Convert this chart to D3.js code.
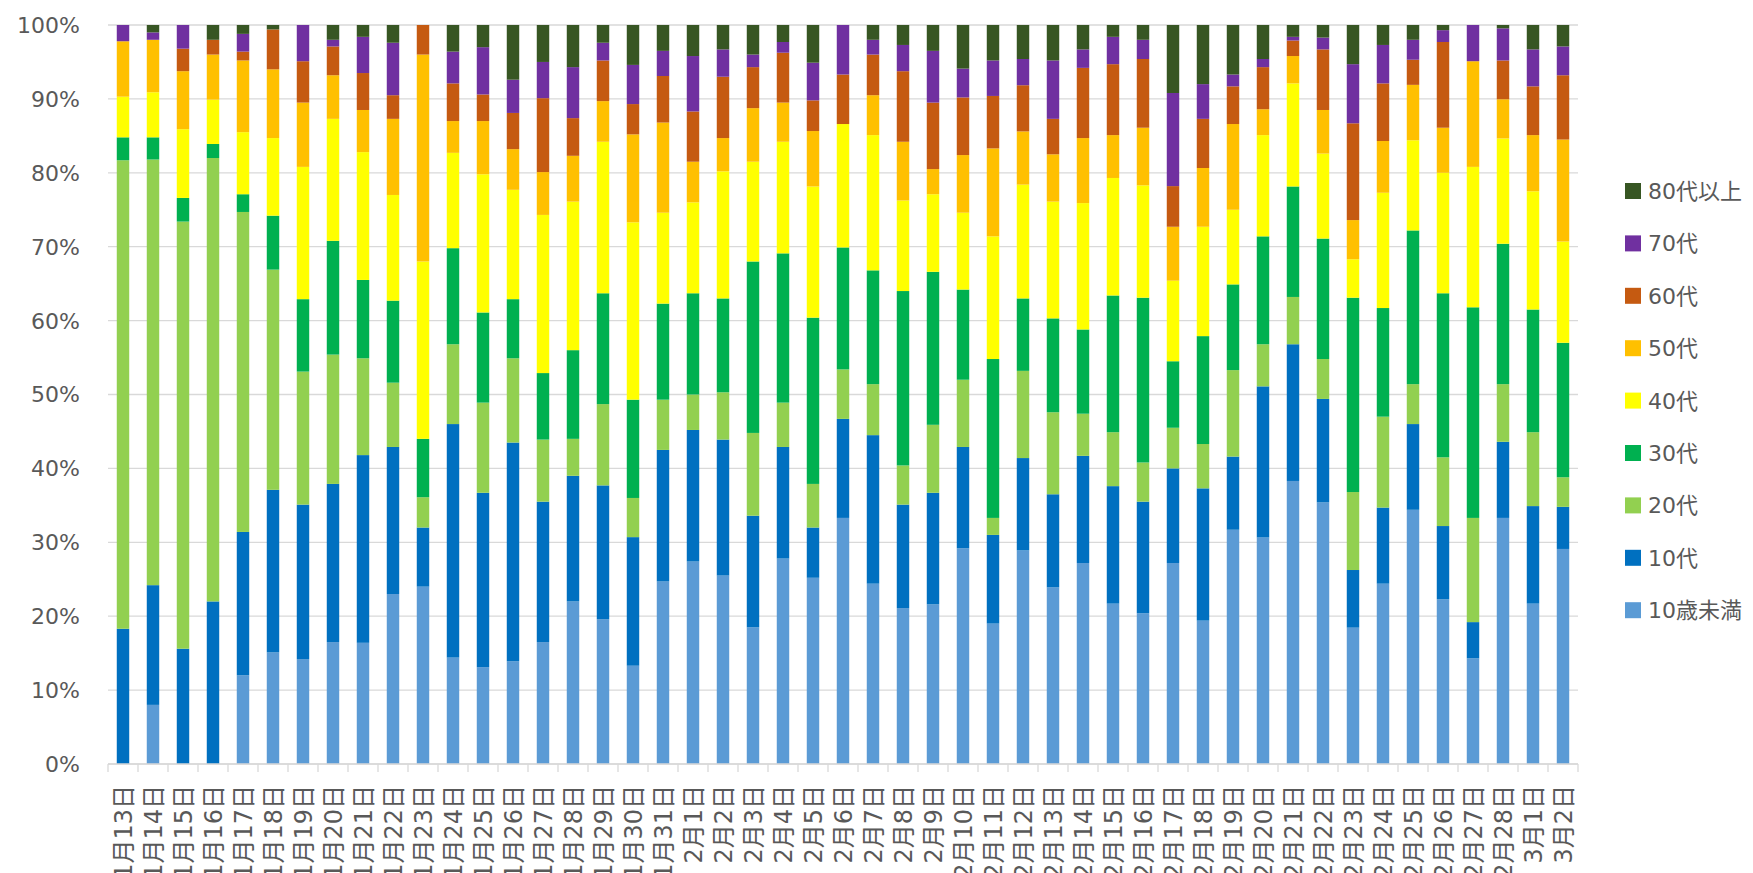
<!DOCTYPE html>
<html>
<head>
<meta charset="utf-8">
<script src="https://cdn.jsdelivr.net/npm/d3@7"></script>
<style>
  html, body { margin: 0; padding: 0; background: #fff; }
  svg { display: block; }
  text { font-family: "DejaVu Sans", "Noto Sans CJK JP", sans-serif; fill: #595959; }
</style>
</head>
<body>
<svg id="chart" width="1753" height="873"></svg>
<script>
const categories = [
  "1月13日","1月14日","1月15日","1月16日","1月17日","1月18日","1月19日","1月20日","1月21日","1月22日",
  "1月23日","1月24日","1月25日","1月26日","1月27日","1月28日","1月29日","1月30日","1月31日",
  "2月1日","2月2日","2月3日","2月4日","2月5日","2月6日","2月7日","2月8日","2月9日","2月10日",
  "2月11日","2月12日","2月13日","2月14日","2月15日","2月16日","2月17日","2月18日","2月19日","2月20日",
  "2月21日","2月22日","2月23日","2月24日","2月25日","2月26日","2月27日","2月28日","3月1日","3月2日"
];
const seriesNames = ["10歳未満","10代","20代","30代","40代","50代","60代","70代","80代以上"];
const seriesColors = ["#5B9BD5","#0070C0","#92D050","#00B050","#FFFF00","#FFC000","#C55A11","#7030A0","#375623"];

const under10 = [0,8.0,0,0,12.0,15.1,14.2,16.5,16.4,23.0,24.0,14.4,13.1,13.9,16.5,22.0,19.6,13.3,24.7,27.4,25.5,18.5,27.8,25.2,33.3,24.4,21.1,21.6,29.2,19.0,28.9,23.9,27.2,21.7,20.4,27.2,19.4,31.7,30.65,38.3,35.4,18.45,24.4,34.4,22.3,14.3,33.3,21.7,29.1];
const age10s = [18.3,16.2,15.6,22.0,19.4,22.0,20.9,21.4,25.4,19.9,8.0,31.6,23.6,29.6,19.0,17.0,18.1,17.4,17.8,17.8,18.4,15.1,15.1,6.8,13.4,20.1,14.0,15.1,13.7,12.0,12.5,12.6,14.5,15.9,15.1,12.8,17.9,9.9,20.45,18.5,14.0,7.8,10.3,11.6,9.9,4.9,10.3,13.2,5.7];
const age20s = [63.4,57.6,57.8,60.0,43.3,29.8,18.0,17.5,13.1,8.7,4.1,10.8,12.2,11.4,8.4,5.0,11.0,5.3,6.8,4.8,6.4,11.2,6.0,5.9,6.7,6.9,5.3,9.2,9.1,2.3,11.8,11.1,5.7,7.3,5.3,5.5,6.0,11.7,5.7,6.4,5.4,10.55,12.3,5.4,9.3,14.1,7.8,10.0,4.0];
const age30s = [3.1,3.0,3.2,1.9,2.4,7.3,9.8,15.4,10.6,11.1,7.9,13.0,12.2,8.0,9.0,12.0,15.0,13.3,13.0,13.7,12.7,23.2,20.2,22.5,16.5,15.4,23.6,20.7,12.2,21.5,9.8,12.7,11.4,18.5,22.3,9.0,14.6,11.6,14.6,14.95,16.3,26.3,14.7,20.8,22.2,28.5,19.0,16.6,18.2];
const age40s = [5.5,6.1,9.3,6.0,8.4,10.5,17.9,16.5,17.3,14.3,24.0,12.9,18.7,14.8,21.4,20.1,20.5,24.0,12.3,12.3,17.2,13.5,15.1,17.75,16.7,18.3,12.25,10.5,10.4,16.6,15.4,15.8,17.1,15.9,15.2,10.9,14.8,10.1,13.7,13.95,11.5,5.2,15.6,12.2,16.3,19.0,14.25,16.0,13.7];
const age50s = [7.5,7.1,7.85,6.1,9.7,9.3,8.7,5.9,5.7,10.3,28.0,4.3,7.2,5.5,5.8,6.2,5.5,11.9,12.2,5.5,4.5,7.25,5.3,7.5,0,5.4,7.95,3.4,7.8,11.9,7.2,6.4,8.8,5.8,7.8,7.3,7.95,11.6,3.5,3.7,5.9,5.3,7.0,7.5,6.1,14.3,5.3,7.6,13.8];
const age60s = [0,0,3.05,2.0,1.2,5.4,5.6,3.9,5.0,3.2,4.0,5.1,3.6,4.9,10.0,5.1,5.5,4.1,6.3,6.8,8.3,5.55,6.75,4.15,6.7,5.5,9.55,9.0,7.8,7.1,6.25,4.8,9.5,9.6,9.3,5.5,6.65,5.1,5.7,2.1,8.2,13.1,7.8,3.4,11.6,0,5.25,6.6,8.7];
const age70s = [2.2,1.0,3.2,0,2.4,0,4.9,0.9,4.9,7.1,0,4.3,6.4,4.5,4.9,6.9,2.4,5.3,3.4,7.5,3.7,1.7,1.45,5.1,6.7,2.0,3.55,7.0,3.9,4.8,3.55,7.9,2.5,3.7,2.6,12.6,4.7,1.6,1.1,0.5,1.6,8.0,5.2,2.7,1.6,4.9,4.35,5.0,3.9];
const age80plus = [0,1.0,0,2.0,1.2,0.6,0,2.0,1.6,2.4,0,3.6,3.0,7.4,5.0,5.7,2.4,5.4,3.5,4.2,3.3,4.0,2.3,5.1,0,2.0,2.7,3.5,5.9,4.8,4.6,4.8,3.3,1.6,2.0,9.2,8.0,6.7,4.6,1.6,1.7,5.3,2.7,2.0,0.7,0,0.45,3.3,2.9];
const yTicks = [0,10,20,30,40,50,60,70,80,90,100];

const seriesValues = [under10, age10s, age20s, age30s, age40s, age50s, age60s, age70s, age80plus];

const rows = categories.map((c, i) => {
  const r = { cat: c };
  seriesNames.forEach((s, k) => { r[s] = seriesValues[k][i]; });
  return r;
});

const svg = d3.select("#chart");
const margin = { left: 108, right: 1578, top: 25, bottom: 764 };

const x = d3.scaleBand().domain(categories).range([margin.left, margin.right])
  .paddingInner(0.585).paddingOuter(0.2925);
const y = d3.scaleLinear().domain([0, 100]).range([margin.bottom, margin.top]);
const color = d3.scaleOrdinal().domain(seriesNames).range(seriesColors);

// gridlines
svg.append("g").selectAll("line").data(yTicks).join("line")
  .attr("x1", margin.left).attr("x2", margin.right)
  .attr("y1", d => y(d)).attr("y2", d => y(d))
  .attr("stroke", "#d9d9d9").attr("stroke-width", 1.3);

// stacked bars (100%)
const stack = d3.stack().keys(seriesNames).offset(d3.stackOffsetExpand);
const stacked = stack(rows);
svg.append("g").selectAll("g").data(stacked).join("g")
  .attr("fill", d => color(d.key))
  .selectAll("rect").data(d => d).join("rect")
  .attr("x", d => x(d.data.cat))
  .attr("width", x.bandwidth())
  .attr("y", d => y(d[1] * 100))
  .attr("height", d => Math.max(0, y(d[0] * 100) - y(d[1] * 100)));

// x axis
const step = x.step();
const xAxis = svg.append("g");
xAxis.append("line")
  .attr("x1", margin.left).attr("x2", margin.right)
  .attr("y1", margin.bottom).attr("y2", margin.bottom)
  .attr("stroke", "#d9d9d9").attr("stroke-width", 1.3);
const tickPos = d3.range(categories.length + 1).map(i => margin.left + i * step);
xAxis.selectAll("line.tick").data(tickPos).join("line").attr("class", "tick")
  .attr("x1", d => d).attr("x2", d => d)
  .attr("y1", margin.bottom).attr("y2", margin.bottom + 8)
  .attr("stroke", "#d9d9d9").attr("stroke-width", 1.3);
xAxis.selectAll("text").data(categories).join("text")
  .attr("transform", d => `translate(${x(d) + x.bandwidth() / 2 + 8.5},${margin.bottom + 21}) rotate(-90)`)
  .attr("text-anchor", "end")
  .style("font-size", "24px")
  .text(d => d);

// y axis labels
svg.append("g").selectAll("text").data(yTicks).join("text")
  .attr("x", 80).attr("y", d => y(d))
  .attr("dy", "0.36em")
  .attr("text-anchor", "end")
  .style("font-size", "22px")
  .text(d => d + "%");

// legend (top: 80代以上 ... bottom: 10歳未満)
const legendItems = seriesNames.slice().reverse();
const lg = svg.append("g").selectAll("g").data(legendItems).join("g")
  .attr("transform", (d, i) => `translate(1625,${191 + i * 52.4})`);
lg.append("rect").attr("x", 0).attr("y", -8).attr("width", 16).attr("height", 16)
  .attr("fill", d => color(d));
lg.append("text").attr("x", 23).attr("y", 0).attr("dy", "0.36em")
  .style("font-size", "22px").text(d => d);
</script>
</body>
</html>
